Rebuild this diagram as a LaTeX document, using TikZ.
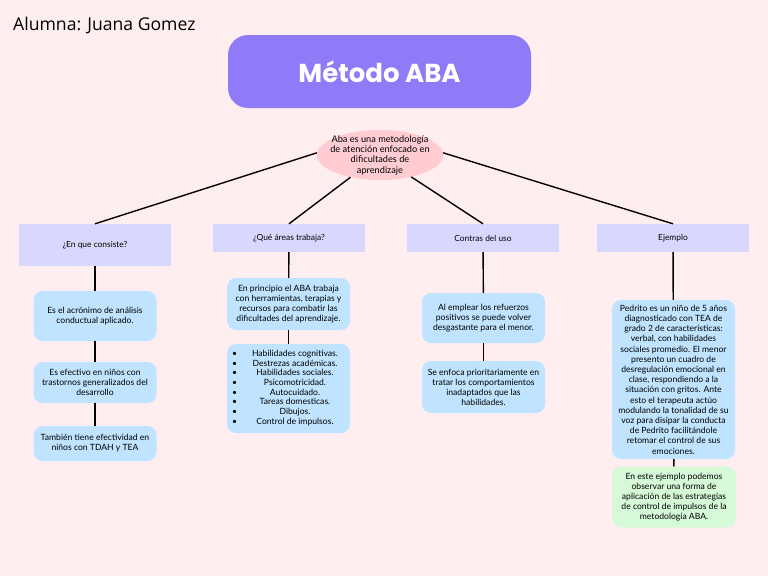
\documentclass[tikz,border=0pt]{standalone}
\usepackage{fontspec}
\usepackage{array}
\setmainfont{Lato}
\newfontfamily\titlefont{Poppins}
\newfontfamily\namefont{Open Sans}
\usetikzlibrary{shapes.geometric}

\definecolor{bgpink}{RGB}{255,238,240}
\definecolor{titlepurple}{RGB}{143,122,248}
\definecolor{ovalpink}{RGB}{255,204,210}
\definecolor{headlav}{RGB}{216,216,255}
\definecolor{boxblue}{RGB}{192,228,255}
\definecolor{boxgreen}{RGB}{214,250,216}

\begin{document}
\begin{tikzpicture}[x=1pt, y=-1pt,
  head/.style={fill=headlav, minimum width=152pt, minimum height=28pt, inner sep=0pt, font=\fontsize{8.4}{10}\selectfont},
  info/.style={fill=boxblue, rounded corners=9pt, minimum width=123pt, inner sep=0pt, align=center, font=\fontsize{8.6}{10}\selectfont},
  link/.style={line width=1.4pt}]
%Background and page size
\fill[bgpink] (0,0) rectangle (768,576);
\useasboundingbox (0,0) rectangle (768,576);
% Student name and title
\node[anchor=base west, inner sep=0pt, font=\namefont\fontsize{17.6}{19}\selectfont] (alumna) at (13,30) {Alumna: Juana Gomez};
\node[fill=titlepurple, rounded corners=20pt, minimum width=303pt, minimum height=73pt, text=white,
      font=\titlefont\bfseries\fontsize{26}{30}\selectfont] (titulo) at (379.5,71.5) {Método ABA};
% Central idea
\node[ellipse, fill=ovalpink, minimum width=124pt, minimum height=50pt, inner xsep=-5pt, inner ysep=-8pt, align=center,
      font=\fontsize{9.2}{10.3}\selectfont] (aba) at (380,155) {Aba es una metodología\\de atención enfocado en\\dificultades de\\aprendizaje};
% Headers
\node[head, minimum height=42pt] (consiste) at (95,245) {¿En que consiste?};
\node[head] (areas) at (289,238) {¿Qué áreas trabaja?};
\node[head] (contras) at (483,238) {Contras del uso};
\node[head] (ejemplo) at (673,238) {Ejemplo};
% First column
\node[info, minimum height=50pt] (acronimo) at (95,316) {Es el acrónimo de análisis\\conductual aplicado.};
\node[info, minimum height=41pt] (efectivo) at (95,382.5) {Es efectivo en niños con\\trastornos generalizados del\\desarrollo};
\node[info, minimum height=35pt] (tdah) at (95,443.5) {También tiene efectividad en\\niños con TDAH y TEA};
% Second column
\node[info, minimum height=52pt] (principio) at (288.5,304) {En principio el ABA trabaja\\con herramientas, terapias y\\recursos para combatir las\\dificultades del aprendizaje.};
\node[info, minimum height=89pt, font=\fontsize{8.6}{9.7}\selectfont] (lista) at (288.5,388.5) {%
  \begin{tabular}{@{}l@{\hspace{8pt}}>{\centering\arraybackslash}p{100pt}@{}}
  \textbullet & Habilidades cognitivas.\\
  \textbullet & Destrezas académicas.\\
  \textbullet & Habilidades sociales.\\
  \textbullet & Psicomotricidad.\\
  \textbullet & Autocuidado.\\
  \textbullet & Tareas domesticas.\\
  \textbullet & Dibujos.\\
  \textbullet & Control de impulsos.
  \end{tabular}};
% Third column
\node[info, minimum height=50pt] (refuerzos) at (483.5,318) {Al emplear los refuerzos\\positivos se puede volver\\desgastante para el menor.};
\node[info, minimum height=52pt] (enfoca) at (483.5,387) {Se enfoca prioritariamente en\\tratar los comportamientos\\inadaptados que las\\habilidades.};
% Fourth column
\node[info, minimum height=159pt, font=\fontsize{8.6}{10.2}\selectfont] (pedrito) at (673.5,379.5) {Pedrito es un niño de 5 años\\diagnosticado con TEA de\\grado 2 de caracteristicas:\\verbal, con habilidades\\sociales promedio. El menor\\presento un cuadro de\\desregulación emocional en\\clase, respondiendo a la\\situación con gritos. Ante\\esto el terapeuta actúo\\modulando la tonalidad de su\\voz para disipar la conducta\\de Pedrito facilitándole\\retomar el control de sus\\emociones.};
\node[info, fill=boxgreen, minimum width=124pt, minimum height=61pt] (observar) at (674,497) {En este ejemplo podemos\\observar una forma de\\aplicación de las estrategias\\de control de impulsos de la\\metodología ABA.};
% Connectors
\draw[link] (aba.178) -- (consiste.north);
\draw[link] (aba.-143) -- (areas.north);
\draw[link] (aba.-35) -- (contras.north);
\draw[link] (aba.2) -- (ejemplo.north);
\draw[link] (consiste) -- (acronimo);
\draw[link] (acronimo) -- (efectivo);
\draw[link] (efectivo) -- (tdah);
\draw[link] (areas) -- (principio);
\draw[link] (principio) -- (lista);
\draw[link] (contras) -- (refuerzos);
\draw[link] (refuerzos) -- (enfoca);
\draw[link] (ejemplo) -- (pedrito);
\draw[link] (pedrito) -- (observar);
\end{tikzpicture}
\end{document}
